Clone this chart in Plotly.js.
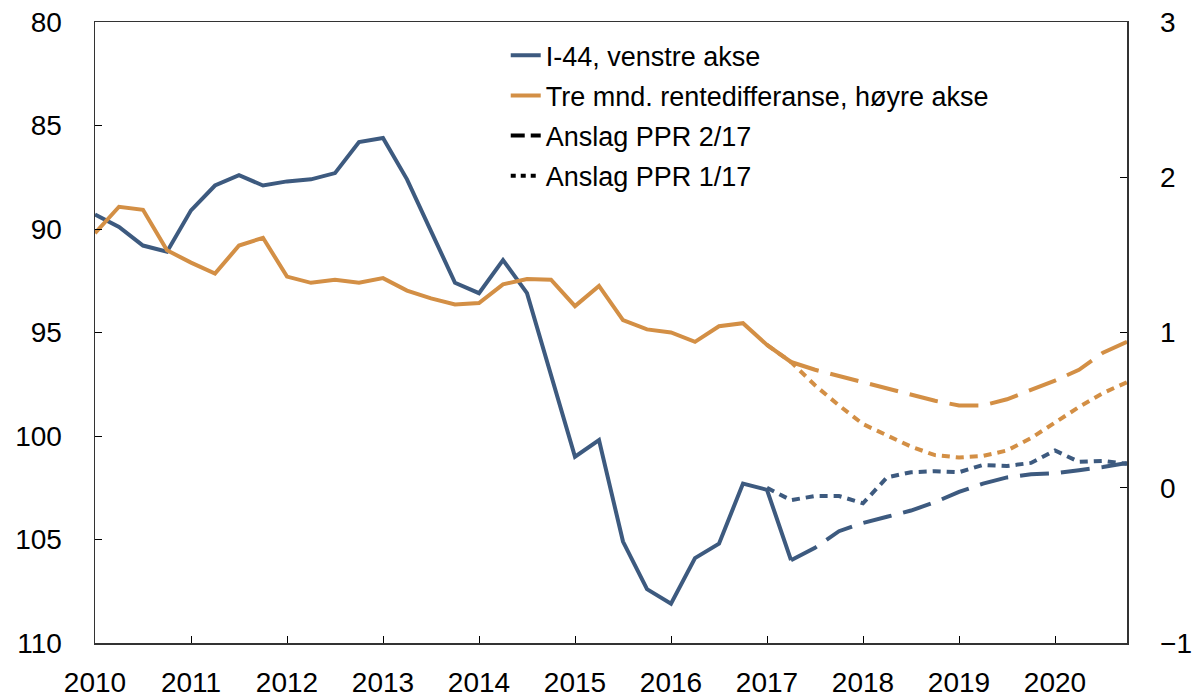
<!DOCTYPE html>
<html>
<head>
<meta charset="utf-8">
<script src="https://cdn.plot.ly/plotly-3.0.1.min.js"></script>
<style>html,body{margin:0;padding:0;background:#fff;}#chart{width:1192px;height:700px;}</style>
</head>
<body>
<div id="chart"></div>
<script>
// Quarterly series, first point at 2010 Q1 (plotted at 2010.0)
const startYear = 2010;
const yearTicks = [2010, 2011, 2012, 2013, 2014, 2015, 2016, 2017, 2018, 2019, 2020];

// I-44 (left axis, inverted), 2010 Q1 - 2017 Q2
const i44Actual = [89.3, 89.9, 90.8, 91.1, 89.1, 87.9, 87.4, 87.9, 87.7, 87.6, 87.3, 85.8,
  85.6, 87.6, 90.1, 92.6, 93.1, 91.5, 93.1, 97.0, 101.0, 100.2, 105.1, 107.4,
  108.1, 105.9, 105.2, 102.3, 102.6, 106.0];
// Three-month interest rate differential (right axis), 2010 Q1 - 2017 Q2
const rateActual = [1.64, 1.81, 1.79, 1.53, 1.45, 1.38, 1.56, 1.61, 1.36, 1.32, 1.34, 1.32,
  1.35, 1.27, 1.22, 1.18, 1.19, 1.31, 1.345, 1.34, 1.17, 1.30, 1.08, 1.02,
  1.00, 0.94, 1.04, 1.06, 0.92, 0.81];

// Projections PPR 2/17: 2017 Q2 - 2020 Q4
const ppr217Start = 2017.25;
const i44Ppr217 = [106.0, 105.4, 104.6, 104.2, 103.9, 103.6, 103.2, 102.7, 102.3, 102.0,
  101.85, 101.8, 101.65, 101.5, 101.3];
const ratePpr217 = [0.81, 0.76, 0.72, 0.68, 0.64, 0.60, 0.56, 0.53, 0.53, 0.57, 0.63, 0.69,
  0.76, 0.87, 0.94];

// Projections PPR 1/17: 2017 Q1 - 2020 Q4
const ppr117Start = 2017.0;
const i44Ppr117 = [102.5, 103.1, 102.9, 102.9, 103.25, 102.0, 101.75, 101.7, 101.75, 101.4,
  101.45, 101.3, 100.7, 101.25, 101.2, 101.35];
const ratePpr117 = [0.92, 0.81, 0.66, 0.53, 0.41, 0.335, 0.265, 0.21, 0.195, 0.205, 0.24,
  0.32, 0.42, 0.52, 0.61, 0.68];

const legendNames = ["I-44, venstre akse", "Tre mnd. rentedifferanse, høyre akse",
  "Anslag PPR 2/17", "Anslag PPR 1/17"];

const BLUE = "#3d5a7f";
const ORANGE = "#d38f45";
const LW = 4;
const DASH = "29px,12px";
const DOT = "8px,6px";

function quarters(start, n) {
  const out = [];
  for (let i = 0; i < n; i++) out.push(start + i * 0.25);
  return out;
}

const traces = [
  {x: quarters(startYear, i44Actual.length), y: i44Actual, yaxis: "y", name: legendNames[0],
   mode: "lines", line: {color: BLUE, width: LW}, legendgroup: "a", legendrank: 1},
  {x: quarters(startYear, rateActual.length), y: rateActual, yaxis: "y2", name: legendNames[1],
   mode: "lines", line: {color: ORANGE, width: LW}, legendgroup: "b", legendrank: 2},
  {x: quarters(ppr217Start, i44Ppr217.length), y: i44Ppr217, yaxis: "y", showlegend: false,
   mode: "lines", line: {color: BLUE, width: LW, dash: DASH}},
  {x: quarters(ppr117Start, i44Ppr117.length), y: i44Ppr117, yaxis: "y", showlegend: false,
   mode: "lines", line: {color: BLUE, width: LW, dash: DOT}},
  {x: quarters(ppr217Start, ratePpr217.length), y: ratePpr217, yaxis: "y2", showlegend: false,
   mode: "lines", line: {color: ORANGE, width: LW, dash: DASH}},
  {x: quarters(ppr117Start, ratePpr117.length), y: ratePpr117, yaxis: "y2", showlegend: false,
   mode: "lines", line: {color: ORANGE, width: LW, dash: DOT}},
  {x: [null], y: [null], yaxis: "y", name: legendNames[2], mode: "lines",
   line: {color: "#000", width: LW, dash: "14px,6px"}, legendgroup: "c", legendrank: 3},
  {x: [null], y: [null], yaxis: "y", name: legendNames[3], mode: "lines",
   line: {color: "#000", width: LW, dash: "5px,5px"}, legendgroup: "d", legendrank: 4}
];

const FONT = "'Liberation Sans', Arial, Helvetica, sans-serif";

const layout = {
  width: 1192, height: 700,
  margin: {l: 95, r: 65, t: 22, b: 57, pad: 0},
  paper_bgcolor: "#fff", plot_bgcolor: "#fff",
  font: {family: FONT, size: 28, color: "#000"},
  showlegend: true,
  legend: {x: 0.398, y: 0.985, xanchor: "left", yanchor: "top",
    font: {family: FONT, size: 27, color: "#000"}, bgcolor: "rgba(0,0,0,0)",
    traceorder: "grouped", tracegroupgap: 2, itemwidth: 30},
  xaxis: {range: [2010, 2020.75], tickvals: yearTicks, ticktext: yearTicks.map(String),
    ticks: "inside", ticklen: 7, tickcolor: "#000", tickwidth: 1,
    showline: true, linecolor: "#333", linewidth: 1.5, mirror: true,
    showgrid: false, zeroline: false, ticklabelstandoff: 14,
    tickfont: {family: FONT, size: 28, color: "#000"}},
  yaxis: {range: [110, 80], dtick: 5, tick0: 80, ticks: "inside", ticklen: 7,
    tickcolor: "#000", showline: true, linecolor: "#333", linewidth: 1.5,
    showgrid: false, zeroline: false, ticklabelstandoff: 26,
    tickfont: {family: FONT, size: 28, color: "#000"}},
  yaxis2: {range: [-1, 3], dtick: 1, tick0: 0, overlaying: "y", side: "right",
    ticks: "inside", ticklen: 7, tickcolor: "#000", showline: true,
    linecolor: "#333", linewidth: 1.5, showgrid: false, zeroline: false,
    ticklabelstandoff: 26, tickfont: {family: FONT, size: 28, color: "#000"}}
};

Plotly.newPlot("chart", traces, layout, {displayModeBar: false, staticPlot: true});
</script>
</body>
</html>
